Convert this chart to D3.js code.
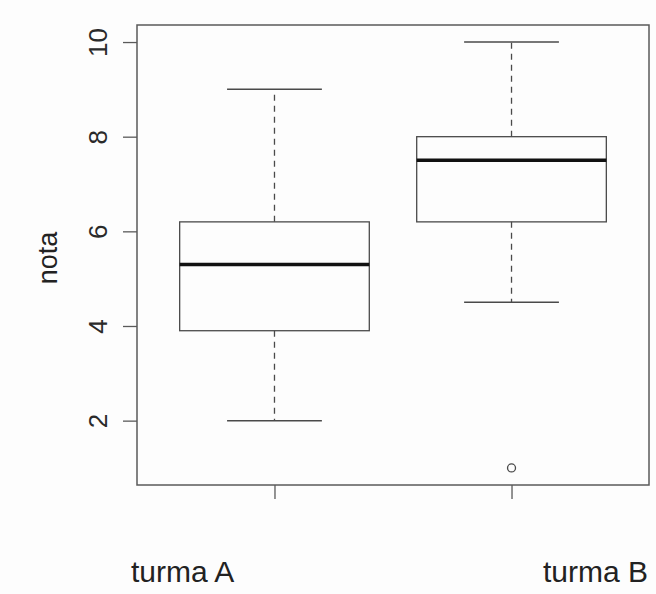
<!DOCTYPE html>
<html>
<head>
<meta charset="utf-8">
<script src="https://cdn.jsdelivr.net/npm/d3@7"></script>
<style>
  html, body { margin: 0; padding: 0; background: #fdfdfd; }
  svg { display: block; }
</style>
</head>
<body>
<script>
// ---- data ----
const categories = ["turma A", "turma B"];
const whiskerLow  = [2.0, 4.5];
const q1          = [3.9, 6.2];
const medians     = [5.3, 7.5];
const q3          = [6.2, 8.0];
const whiskerHigh = [9.0, 10.0];
const outliers    = [[], [1.0]];
const yTicks      = [2, 4, 6, 8, 10];
const yLabel      = "nota";

(function () {
  // ---- layout ----
  const W = 656, H = 594;
  const svg = d3.select("body").append("svg").attr("width", W).attr("height", H);
  svg.append("rect").attr("width", W).attr("height", H).attr("fill", "#fdfdfd");

  const pLeft = 137, pRight = 649, pTop = 25, pBottom = 485;
  const y = d3.scaleLinear().domain([0.64, 10.36]).range([pBottom, pTop]);
  const x = d3.scaleLinear().domain([0.42, 2.58]).range([pLeft, pRight]);
  const boxW = x(0.8) - x(0);
  const capW = boxW / 2;
  const lineCol = "#4a4a4a";

  const data = categories.map((c, i) => ({
    cat: c, pos: i + 1, lo: whiskerLow[i], q1: q1[i], med: medians[i], q3: q3[i], hi: whiskerHigh[i], out: outliers[i]
  }));

  const g = svg.append("g");
  const boxes = g.selectAll("g.box").data(data).join("g").attr("class", "box");

  // whiskers (dashed)
  boxes.append("line")
    .attr("x1", d => x(d.pos)).attr("x2", d => x(d.pos))
    .attr("y1", d => y(d.q3)).attr("y2", d => y(d.hi))
    .attr("stroke", lineCol).attr("stroke-width", 1.3).attr("stroke-dasharray", "6,5");
  boxes.append("line")
    .attr("x1", d => x(d.pos)).attr("x2", d => x(d.pos))
    .attr("y1", d => y(d.q1)).attr("y2", d => y(d.lo))
    .attr("stroke", lineCol).attr("stroke-width", 1.3).attr("stroke-dasharray", "6,5");
  // staples
  boxes.append("line")
    .attr("x1", d => x(d.pos) - capW / 2).attr("x2", d => x(d.pos) + capW / 2)
    .attr("y1", d => y(d.hi)).attr("y2", d => y(d.hi))
    .attr("stroke", lineCol).attr("stroke-width", 1.5);
  boxes.append("line")
    .attr("x1", d => x(d.pos) - capW / 2).attr("x2", d => x(d.pos) + capW / 2)
    .attr("y1", d => y(d.lo)).attr("y2", d => y(d.lo))
    .attr("stroke", lineCol).attr("stroke-width", 1.5);
  // box
  boxes.append("rect")
    .attr("x", d => x(d.pos) - boxW / 2).attr("width", boxW)
    .attr("y", d => y(d.q3)).attr("height", d => y(d.q1) - y(d.q3))
    .attr("fill", "none").attr("stroke", lineCol).attr("stroke-width", 1.3);
  // median
  boxes.append("line")
    .attr("x1", d => x(d.pos) - boxW / 2).attr("x2", d => x(d.pos) + boxW / 2)
    .attr("y1", d => y(d.med)).attr("y2", d => y(d.med))
    .attr("stroke", "#111").attr("stroke-width", 3.5);
  // outliers
  boxes.selectAll("circle").data(d => d.out.map(v => ({ pos: d.pos, v }))).join("circle")
    .attr("cx", d => x(d.pos)).attr("cy", d => y(d.v)).attr("r", 4)
    .attr("fill", "none").attr("stroke", lineCol).attr("stroke-width", 1.3);

  // frame
  svg.append("rect")
    .attr("x", pLeft).attr("y", pTop).attr("width", pRight - pLeft).attr("height", pBottom - pTop)
    .attr("fill", "none").attr("stroke", "#5a5a5a").attr("stroke-width", 1.5);

  // y axis
  const yAxis = svg.append("g").attr("transform", `translate(${pLeft},0)`)
    .call(d3.axisLeft(y).tickValues(yTicks).tickSize(14).tickFormat(d3.format("d")));
  yAxis.select(".domain").remove();
  yAxis.selectAll(".tick line").attr("stroke", "#5a5a5a").attr("stroke-width", 1.3);
  yAxis.selectAll(".tick text")
    .attr("x", null).attr("dy", null)
    .attr("text-anchor", "middle")
    .attr("transform", "translate(-30,0) rotate(-90)")
    .attr("font-family", "Liberation Sans, Arial, sans-serif")
    .attr("font-size", 26).attr("fill", "#2a2a2a");

  // x axis ticks
  const xAxis = svg.append("g").attr("transform", `translate(0,${pBottom})`)
    .call(d3.axisBottom(x).tickValues(data.map(d => d.pos)).tickSize(14).tickFormat(""));
  xAxis.select(".domain").remove();
  xAxis.selectAll(".tick line").attr("stroke", "#5a5a5a").attr("stroke-width", 1.3);

  // category labels
  const labelX = [131, 543];
  svg.selectAll("text.cat").data(categories).join("text").attr("class", "cat")
    .attr("x", (d, i) => labelX[i]).attr("y", 582)
    .attr("font-family", "Liberation Sans, Arial, sans-serif")
    .attr("font-size", 30).attr("fill", "#222")
    .text(d => d);

  // y label
  svg.append("text")
    .attr("transform", `translate(57,258) rotate(-90)`)
    .attr("text-anchor", "middle")
    .attr("font-family", "Liberation Sans, Arial, sans-serif")
    .attr("font-size", 27).attr("fill", "#222")
    .text(yLabel);
})();
</script>
</body>
</html>
